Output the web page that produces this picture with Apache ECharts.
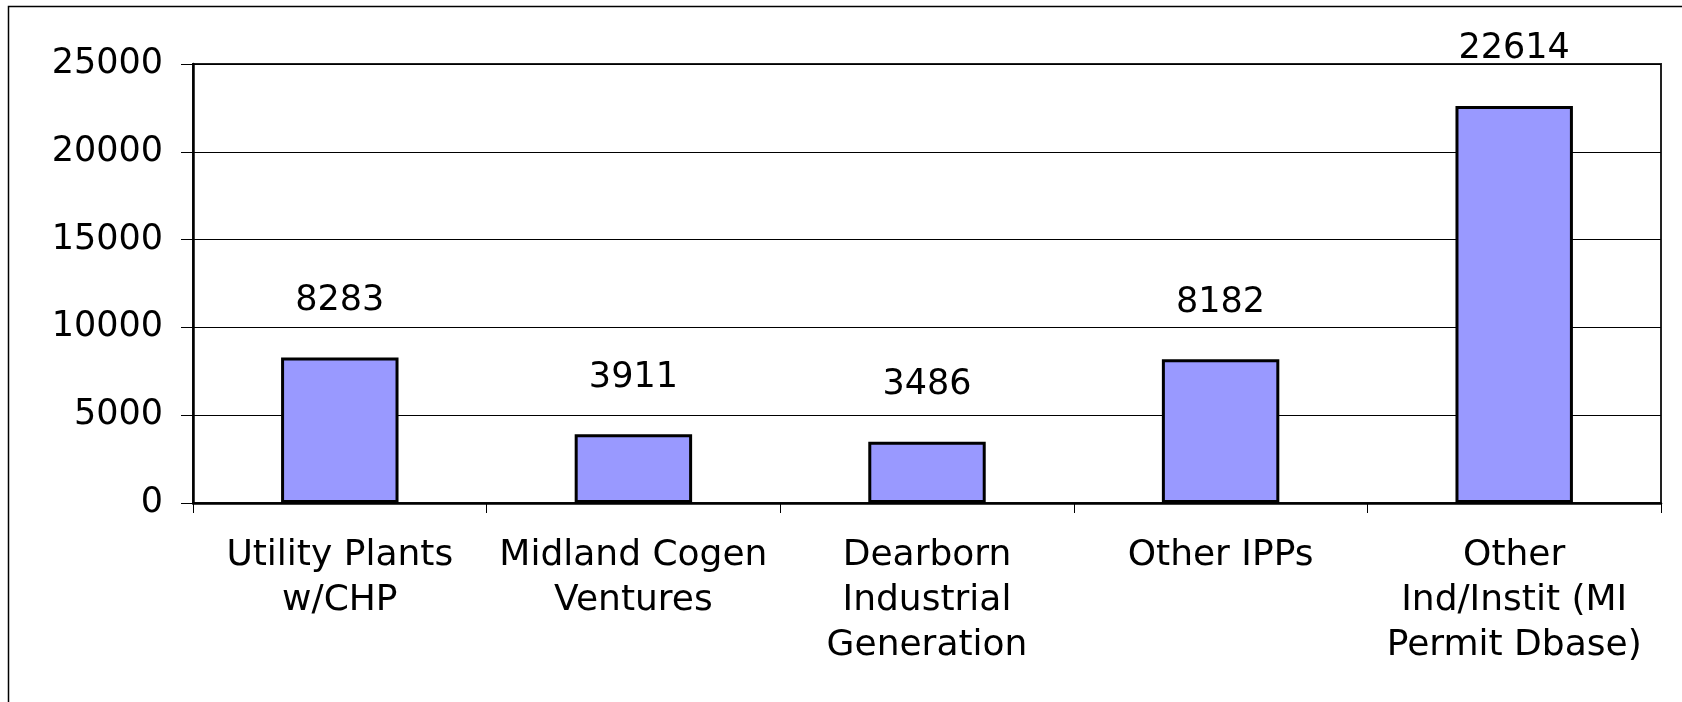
<!DOCTYPE html>
<html>
<head>
<meta charset="utf-8">
<script src="https://cdn.jsdelivr.net/npm/echarts@6/dist/echarts.min.js"></script>
<style>
  html, body { margin: 0; padding: 0; background: #fff; }
  #chart { width: 1682px; height: 702px; }
</style>
</head>
<body>
<div id="chart"></div>
<script>
const categories = [
  'Utility Plants\nw/CHP',
  'Midland Cogen\nVentures',
  'Dearborn\nIndustrial\nGeneration',
  'Other IPPs',
  'Other\nInd/Instit (MI\nPermit Dbase)'
]
const values = [8283, 3911, 3486, 8182, 22614]
const yTicks = { min: 0, max: 25000, interval: 5000 }

const font = 'DejaVu Sans'
const chart = echarts.init(document.getElementById('chart'))
const option = {
  backgroundColor: '#fff',
  animation: false,
  graphic: [
    {
      type: 'rect',
      shape: { x: 8.5, y: 6.5, width: 1700, height: 800 },
      style: { fill: 'none', stroke: '#000', lineWidth: 1.5 },
      silent: true
    }
  ],
  grid: {
    left: 193,
    right: 21,
    top: 64,
    bottom: 199,
    show: true,
    borderColor: '#222',
    borderWidth: 2
  },
  xAxis: {
    type: 'category',
    data: categories,
    axisLine: { lineStyle: { color: '#000', width: 2.5 } },
    axisTick: { show: true, length: 10, lineStyle: { color: '#000', width: 1 } },
    axisLabel: {
      interval: 0,
      margin: 30,
      color: '#000',
      fontFamily: font,
      fontSize: 36,
      lineHeight: 45
    }
  },
  yAxis: {
    type: 'value',
    min: yTicks.min,
    max: yTicks.max,
    interval: yTicks.interval,
    axisLine: { show: true, lineStyle: { color: '#000', width: 2.5 } },
    axisTick: { show: true, length: 12, lineStyle: { color: '#000', width: 1 } },
    splitLine: { show: true, lineStyle: { color: '#000', width: 1 } },
    axisLabel: {
      margin: 30,
      color: '#000',
      fontFamily: font,
      fontSize: 35,
      formatter: v => String(v)
    }
  },
  series: [
    {
      type: 'bar',
      data: values,
      barWidth: '40%',
      itemStyle: { color: '#9999FF', borderColor: '#000', borderWidth: 3 },
      label: {
        show: true,
        position: 'top',
        distance: 39,
        color: '#000',
        fontFamily: font,
        fontSize: 35
      }
    }
  ]
}
chart.setOption(option)
</script>
</body>
</html>
